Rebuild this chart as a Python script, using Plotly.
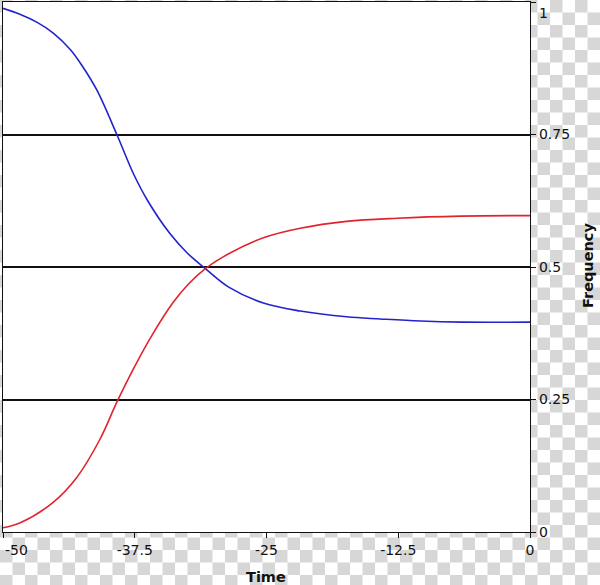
import base64
import plotly.graph_objects as go

# Data
blue_t = [-50, -48.4, -46.8, -45.2, -43.6, -42.4, -41.1, -39.2, -37.6, -36.3,
          -34.2, -32.5, -30.8, -28.5, -25.3, -21.8, -17.4, -14.2, -10.4, -6.4, 0]
blue_v = [0.988, 0.977, 0.962, 0.941, 0.910, 0.877, 0.834, 0.750, 0.675, 0.626,
          0.564, 0.526, 0.497, 0.461, 0.432, 0.417, 0.406, 0.402, 0.398, 0.396, 0.396]

red_t = [-50, -48.4, -45.3, -43.0, -40.8, -39.2, -37.7, -36.05, -33.9, -32.4,
         -30.8, -28.5, -25.3, -21.8, -17.4, -12.6, -6.6, 0]
red_v = [0.008, 0.017, 0.055, 0.103, 0.175, 0.245, 0.305, 0.365, 0.432, 0.468,
         0.497, 0.526, 0.555, 0.573, 0.586, 0.592, 0.596, 0.597]

x_ticks = [-50, -37.5, -25, -12.5, 0]
x_labels = ["-50", "-37.5", "-25", "-12.5", "0"]
y_ticks = [0, 0.25, 0.5, 0.75, 1]
y_labels = ["0", "0.25", "0.5", "0.75", "1"]

W, H = 600, 585
ML, MR, MT, MB = 3, 70, 2, 53
PW, PH = W - ML - MR, H - MT - MB

# transparency-style checkerboard backdrop
sq = 12.5
svg = (f'<svg xmlns="http://www.w3.org/2000/svg" width="{W}" height="{H}">'
       f'<defs><pattern id="p" width="{2*sq}" height="{2*sq}" patternUnits="userSpaceOnUse">'
       f'<rect width="{2*sq}" height="{2*sq}" fill="#ffffff"/>'
       f'<rect width="{sq}" height="{sq}" fill="#d7d7d7"/>'
       f'<rect x="{sq}" y="{sq}" width="{sq}" height="{sq}" fill="#d7d7d7"/>'
       f'</pattern></defs><rect width="{W}" height="{H}" fill="url(#p)"/></svg>')
src = "data:image/svg+xml;base64," + base64.b64encode(svg.encode()).decode()

# edge labels are nudged inward, as in the reference
x_text = ["\u00a0" * 6 + x_labels[0]] + x_labels[1:]
y_text = y_labels[:-1] + [""]

fig = go.Figure()
fig.add_trace(go.Scatter(x=blue_t, y=blue_v, mode="lines", line_shape="spline",
                         line=dict(color="rgb(35,35,205)", width=1.6), showlegend=False))
fig.add_trace(go.Scatter(x=red_t, y=red_v, mode="lines", line_shape="spline",
                         line=dict(color="rgb(225,35,45)", width=1.6), showlegend=False))

font = dict(family="DejaVu Sans", size=14, color="#111")
title_font = dict(size=14.5, family="DejaVu Sans", color="#111")
fig.update_layout(
    width=W, height=H,
    margin=dict(l=ML, r=MR, t=MT, b=MB, pad=0, autoexpand=False),
    paper_bgcolor="rgba(0,0,0,0)",
    plot_bgcolor="white",
    font=font,
    images=[dict(source=src, xref="paper", yref="paper",
                 x=-ML / PW, y=1 + MT / PH, sizex=W / PW, sizey=H / PH,
                 sizing="stretch", xanchor="left", yanchor="top", layer="below")],
    shapes=[dict(type="rect", xref="paper", yref="paper", x0=0, x1=1, y0=0, y1=1,
                 fillcolor="white", line=dict(width=0), layer="below")],
    xaxis=dict(range=[-50, 0], tickvals=x_ticks, ticktext=x_text,
               ticks="outside", ticklen=5, tickcolor="#111", tickwidth=1,
               showline=True, linecolor="#111", linewidth=1.2, mirror=True,
               showgrid=False, zeroline=False, automargin=False,
               ticklabeloverflow="allow"),
    yaxis=dict(range=[0, 1], side="right", tickvals=y_ticks, ticktext=y_text,
               ticks="outside", ticklen=5, tickcolor="#111", tickwidth=1,
               showline=True, linecolor="#111", linewidth=1.2, mirror=True,
               showgrid=True, gridcolor="#111", gridwidth=1.5, zeroline=False,
               automargin=False, ticklabeloverflow="allow"),
    annotations=[
        dict(text=y_labels[-1], xref="paper", yref="paper",
             x=(537 - ML) / PW, y=(MT + PH - 13) / PH, showarrow=False,
             xanchor="left", yanchor="middle", font=font),
        dict(text="<b>Time</b>", xref="paper", yref="paper",
             x=(266 - ML) / PW, y=-(577 - MT - PH) / PH, showarrow=False,
             xanchor="center", yanchor="middle", font=title_font),
        dict(text="<b>Frequency</b>", xref="paper", yref="paper",
             x=(588 - ML) / PW, y=(MT + PH - 266) / PH, showarrow=False, textangle=-90,
             xanchor="center", yanchor="middle", font=title_font),
    ],
)

fig.write_html("out.html", config={"displayModeBar": False},
               post_script="document.body.style.margin='0';document.body.style.overflow='hidden';")
